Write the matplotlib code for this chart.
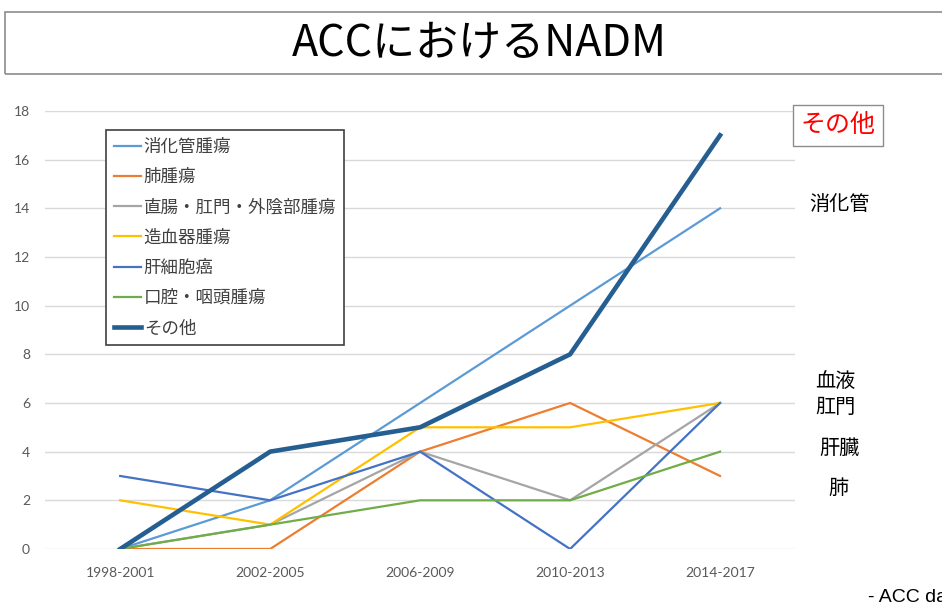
import matplotlib.pyplot as plt
from matplotlib.patches import Rectangle

plt.rcParams['font.family'] = ['Noto Sans CJK JP', 'DejaVu Sans']

periods = ['1998-2001', '2002-2005', '2006-2009', '2010-2013', '2014-2017']

names = ['消化管腫瘍', '肺腫瘍', '直腸・肛門・外陰部腫瘍', '造血器腫瘍',
         '肝細胞癌', '口腔・咽頭腫瘍', 'その他']
digestive = [0, 2, 6, 10, 14]
lung = [0, 0, 4, 6, 3]
rectum = [0, 1, 4, 2, 6]
blood = [2, 1, 5, 5, 6]
liver = [3, 2, 4, 0, 6]
oral = [0, 1, 2, 2, 4]
other = [0, 4, 5, 8, 17]
series = [digestive, lung, rectum, blood, liver, oral, other]

colors = ['#5B9BD5', '#ED7D31', '#A5A5A5', '#FFC000', '#4472C4', '#70AD47', '#255E91']
widths = [1.6, 1.6, 1.6, 1.6, 1.6, 1.6, 3.3]

fig = plt.figure(figsize=(9.42, 6.05), dpi=100)
ax = fig.add_axes([0.048, 0.0926, 0.796, 0.724])

x = list(range(len(periods)))
for vals, name, c, lw in zip(series, names, colors, widths):
    ax.plot(x, vals, color=c, lw=lw, label=name, solid_joinstyle='miter')

ax.set_xlim(-0.5, 4.5)
ax.set_ylim(0, 18)
ax.set_yticks(range(0, 19, 2))
ax.set_xticks(x)
ax.set_xticklabels(periods)
ax.grid(axis='y', color='#D9D9D9', lw=1)
ax.set_axisbelow(True)
for s in ax.spines.values():
    s.set_visible(False)
ax.tick_params(length=0, labelsize=10, labelcolor='#595959')
ax.tick_params(axis='y', pad=11)
ax.tick_params(axis='x', pad=13)
for lab in ax.get_xticklabels() + ax.get_yticklabels():
    lab.set_family(['Lato', 'DejaVu Sans'])

leg = ax.legend(loc='upper left', bbox_to_anchor=(0.0813, 0.9566), fontsize=12.6,
                handlelength=1.55, handletextpad=0.15, labelspacing=0.7,
                fancybox=False, framealpha=1, borderpad=0.45, borderaxespad=0)
leg.get_frame().set_edgecolor('#404040')
leg.get_frame().set_linewidth(1.2)
for t in leg.get_texts():
    t.set_color('#404040')

# title box
fig.patches.append(Rectangle((5 / 942, 1 - 74 / 605), 1.0, 62 / 605,
                             transform=fig.transFigure, fill=False,
                             edgecolor='#8C8C8C', lw=1.2))
fig.text(479 / 942, 1 - 43 / 605, 'ACCにおけるNADM', fontsize=31,
         ha='center', va='center', color='black')

# right side notes
fig.text(838 / 942, 1 - 125 / 605, 'その他', fontsize=18, color='#FF0000',
         ha='center', va='center',
         bbox=dict(boxstyle='square,pad=0.3', fc='white', ec='#8C8C8C', lw=1))
fig.text(839 / 942, 1 - 204 / 605, '消化管', fontsize=14.5, ha='center', va='center')
fig.text(835 / 942, 1 - 381 / 605, '血液', fontsize=14.5, ha='center', va='center')
fig.text(835 / 942, 1 - 407 / 605, '肛門', fontsize=14.5, ha='center', va='center')
fig.text(839 / 942, 1 - 448 / 605, '肝臓', fontsize=14.5, ha='center', va='center')
fig.text(838 / 942, 1 - 488 / 605, '肺', fontsize=14.5, ha='center', va='center')
fig.text(868 / 942, 1 - 598 / 605, '- ACC data', fontsize=14, ha='left',
         va='center', family=['Liberation Sans', 'DejaVu Sans'])

fig.savefig('out.png', dpi=100)
